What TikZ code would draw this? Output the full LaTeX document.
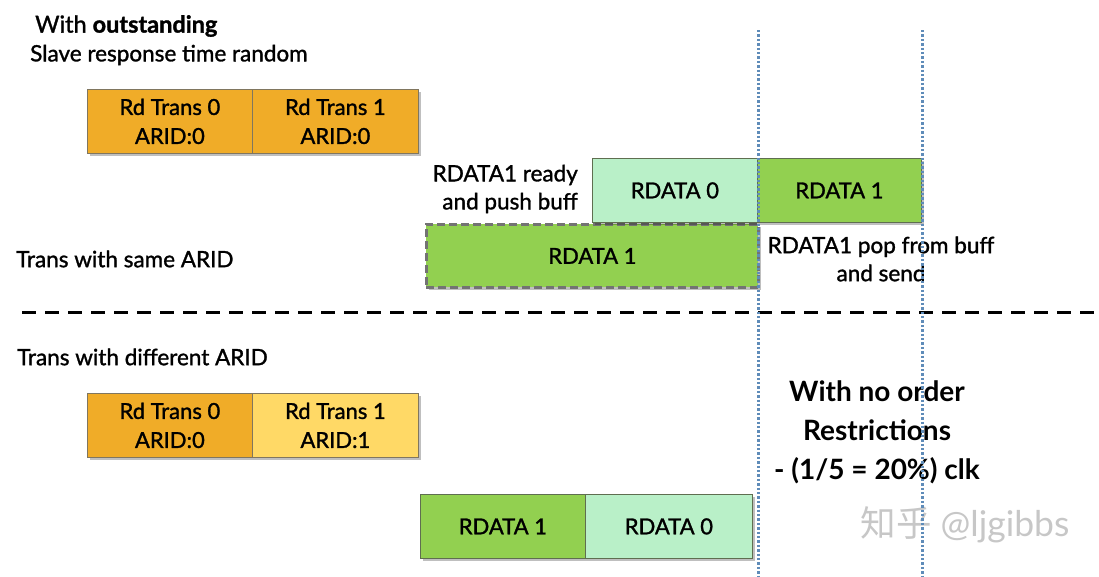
\documentclass[tikz,border=0pt]{standalone}
\usepackage{fontspec}
\setmainfont{Lato}
\newfontfamily\semi{Lato}[RawFeature={embolden=1.3}]
\newfontfamily\cjkfont{Noto Sans CJK SC}
\newfontfamily\wmfont{Lato}
\usetikzlibrary{shadows}
\definecolor{orangeA}{RGB}{240,172,40}
\definecolor{yellowA}{RGB}{255,217,102}
\definecolor{greenA}{RGB}{146,208,80}
\definecolor{mintA}{RGB}{185,240,200}
\definecolor{borderA}{RGB}{128,118,95}
\definecolor{borderG}{RGB}{95,110,80}
\definecolor{dotblue}{RGB}{95,140,185}
\definecolor{dashgray}{RGB}{115,115,115}
\tikzset{
  box/.style={draw=borderA, line width=0.8pt, minimum height=64pt, inner sep=0pt, anchor=north west, align=center,
    font=\semi\fontsize{22}{29}\selectfont,
    drop shadow={shadow xshift=3pt, shadow yshift=-3pt, fill=black, opacity=0.25}},
  lbl/.style={font=\semi\fontsize{22.5}{28}\selectfont, inner sep=0pt},
  big/.style={font=\bfseries\fontsize{28}{39}\selectfont, inner sep=0pt, align=center},
  vdot/.style={draw=dotblue, line width=3pt, dash pattern=on 2.4pt off 2pt},
}
\begin{document}
\begin{tikzpicture}[x=1pt,y=-1pt]
\useasboundingbox (0,0) rectangle (1099,576);
% vertical dotted lines
\coordinate (v1t) at (758,30); \coordinate (v1b) at (758,576);
\coordinate (v2t) at (922,30); \coordinate (v2b) at (922,576);
% top titles
\node[lbl, anchor=west, font=\semi\fontsize{23.5}{26}\selectfont] (t1) at (35,26) {With {\bfseries outstanding}};
\node[lbl, anchor=west] (t2) at (30,55) {Slave response time random};
% first row
\node[box, fill=orangeA, minimum width=165pt] (r0) at (87,89) {Rd Trans 0\\ARID:0};
\node[box, fill=orangeA, minimum width=166pt] (r1) at (252,89) {Rd Trans 1\\ARID:0};
% data boxes same ARID
\node[box, fill=greenA, minimum width=332pt, draw=dashgray, line width=2.8pt, dash pattern=on 8pt off 4pt, minimum height=63pt] (d1b) at (425,223) {RDATA 1};
\node[box, fill=mintA, draw=borderG, minimum width=165pt] (d0) at (592,158) {RDATA 0};
\node[box, fill=greenA, draw=borderG, minimum width=164pt] (d1) at (757,158) {RDATA 1};
\node[lbl, align=right, anchor=east] (push) at (578,189) {RDATA1 ready\\and push buff};
\node[lbl, align=center] (pop) at (881,259) {RDATA1 pop from buff\\and send};
\node[lbl, anchor=west] (same) at (16,259) {Trans with same ARID};
% separator
\coordinate (sl) at (22,312); \coordinate (sr) at (1099,312);
\draw[black, line width=3pt, dash pattern=on 14pt off 9pt] (sl) -- (sr);
% second part
\node[lbl, anchor=west] (diff) at (17,357) {Trans with different ARID};
\node[box, fill=orangeA, minimum width=165pt] (q0) at (87,393) {Rd Trans 0\\ARID:0};
\node[box, fill=yellowA, minimum width=166pt] (q1) at (252,393) {Rd Trans 1\\ARID:1};
\node[box, fill=greenA, draw=borderG, minimum width=165pt] (e1) at (420,494) {RDATA 1};
\node[box, fill=mintA, draw=borderG, minimum width=167pt] (e0) at (585,494) {RDATA 0};
\node[big] (noord) at (877,432) {With no order\\Restrictions\\- (1/5 = 20\%) clk};
\node[inner sep=0pt, text=black!22, font=\wmfont\fontsize{35.5}{38}\selectfont] (wm) at (965,525) {{\cjkfont 知乎} @ljgibbs};
\draw[vdot] (v1t) -- (v1b);
\draw[vdot] (v2t) -- (v2b);
\end{tikzpicture}
\end{document}
